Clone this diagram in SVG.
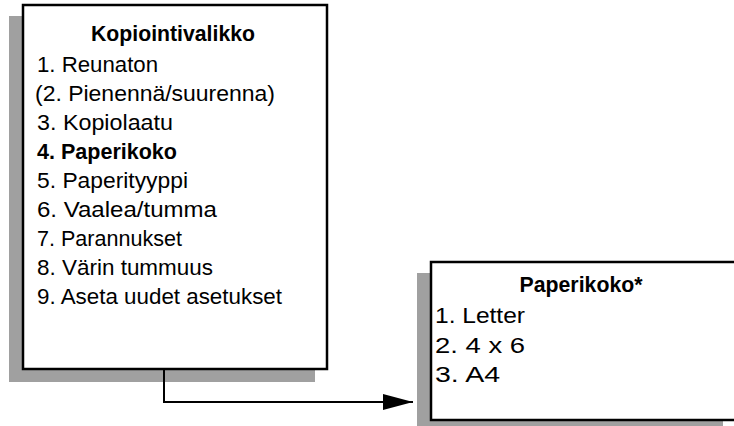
<svg xmlns="http://www.w3.org/2000/svg" width="734" height="426" viewBox="0 0 734 426">
<style>
.shadow{fill:#a0a0a0}
.box{fill:#fff;stroke:#000;stroke-width:2.5}
text{font-family:"Liberation Sans",Arial,sans-serif;font-size:22px;fill:#000}
.title{font-weight:bold;text-anchor:middle}
.b{font-weight:bold}
.conn{fill:none;stroke:#000;stroke-width:2}
</style>
<defs>
<marker id="arr" markerWidth="30" markerHeight="16" refX="30" refY="8" orient="auto" markerUnits="userSpaceOnUse">
<path d="M0,0 L30,8 L0,16 Z" fill="#000"/>
</marker>
</defs>
<g id="menu">
<rect class="shadow" x="9" y="16" width="306" height="366"/>
<rect class="box" x="23" y="5" width="304" height="364"/>
<text class="title" x="173" y="41" textLength="164" lengthAdjust="spacingAndGlyphs">Kopiointivalikko</text>
<text x="37" y="72" textLength="121" lengthAdjust="spacingAndGlyphs">1. Reunaton</text>
<text x="35" y="101" textLength="240" lengthAdjust="spacingAndGlyphs">(2. Pienennä/suurenna)</text>
<text x="37" y="130" textLength="136" lengthAdjust="spacingAndGlyphs">3. Kopiolaatu</text>
<text class="b" x="37" y="159" textLength="140" lengthAdjust="spacingAndGlyphs">4. Paperikoko</text>
<text x="37" y="188" textLength="151" lengthAdjust="spacingAndGlyphs">5. Paperityyppi</text>
<text x="37" y="217" textLength="180" lengthAdjust="spacingAndGlyphs">6. Vaalea/tumma</text>
<text x="37" y="246" textLength="145" lengthAdjust="spacingAndGlyphs">7. Parannukset</text>
<text x="37" y="275" textLength="176" lengthAdjust="spacingAndGlyphs">8. Värin tummuus</text>
<text x="37" y="304" textLength="245" lengthAdjust="spacingAndGlyphs">9. Aseta uudet asetukset</text>
</g>
<g id="paperikoko">
<rect class="shadow" x="417" y="273" width="306" height="160"/>
<rect class="box" x="431" y="262" width="310" height="158"/>
<text class="title" x="581" y="292" textLength="123" lengthAdjust="spacingAndGlyphs">Paperikoko*</text>
<text x="435" y="323" textLength="90" lengthAdjust="spacingAndGlyphs">1. Letter</text>
<text x="435" y="353" textLength="90" lengthAdjust="spacingAndGlyphs">2. 4 x 6</text>
<text x="435" y="382" textLength="65" lengthAdjust="spacingAndGlyphs">3. A4</text>
</g>
<g id="connectors">
<path class="conn" d="M164,369 V402 H413" marker-end="url(#arr)"/>
</g>
</svg>
